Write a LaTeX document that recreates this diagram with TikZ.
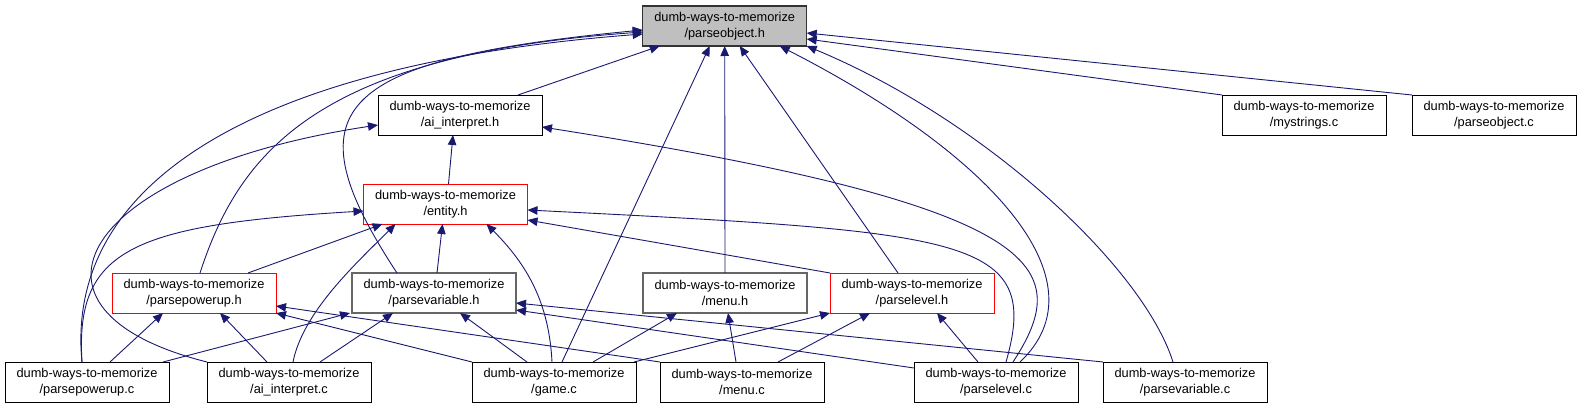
\documentclass[tikz,border=0pt]{standalone}
\usepackage{fontspec}
\setmainfont{Liberation Sans}
\usetikzlibrary{positioning, arrows.meta}

\definecolor{edgeblue}{HTML}{191970}
\definecolor{rootgray}{HTML}{BFBFBF}

\begin{document}
\begin{tikzpicture}[
  x=1pt, y=-1pt,
  box/.style={draw=black, fill=white, line width=0.9pt, minimum width=164pt,
              minimum height=40pt, inner sep=0pt, outer sep=0pt, align=center,
              font=\fontsize{12.8}{15.5}\selectfont},
  rootbox/.style={box, fill=rootgray, draw=black!80, line width=1.1pt},
  redbox/.style={box, draw=red},
  greybox/.style={box, draw=black!60, line width=1.2pt},
  dep/.style={-{Triangle[length=10pt,width=8.5pt]}, draw=edgeblue, fill=none,
              line width=0.9pt},
]
\useasboundingbox (0,0) rectangle (1580,409);

% row 0
\node[rootbox] (pobjh) at (724.7,26) {dumb-ways-to-memorize\\/parseobject.h};

% row 1
\node[box] (aih) at (460,115) {dumb-ways-to-memorize\\/ai\_interpret.h};
\node[box] (mysc) at (1304,115) {dumb-ways-to-memorize\\/mystrings.c};
\node[box, right=26pt of mysc] (pobjc) {dumb-ways-to-memorize\\/parseobject.c};

% row 2
\node[redbox] (enth) at (445.5,204) {dumb-ways-to-memorize\\/entity.h};

% row 3
\node[redbox] (ppuh) at (194,293) {dumb-ways-to-memorize\\/parsepowerup.h};
\node[greybox, right=76pt of ppuh] (pvarh) {dumb-ways-to-memorize\\/parsevariable.h};
\node[greybox, right=127pt of pvarh] (menuh) {dumb-ways-to-memorize\\/menu.h};
\node[redbox, right=23pt of menuh] (plevh) {dumb-ways-to-memorize\\/parselevel.h};

% row 4
\node[box] (ppuc) at (87,382) {dumb-ways-to-memorize\\/parsepowerup.c};
\node[box, right=38pt of ppuc] (aic) {dumb-ways-to-memorize\\/ai\_interpret.c};
\node[box, right=101pt of aic] (gamec) {dumb-ways-to-memorize\\/game.c};
\node[box, right=24pt of gamec] (menuc) {dumb-ways-to-memorize\\/menu.c};
\node[box, right=90pt of menuc] (plevc) {dumb-ways-to-memorize\\/parselevel.c};
\node[box, right=25pt of plevc] (pvarc) {dumb-ways-to-memorize\\/parsevariable.c};

% into parseobject.h
\draw[dep] ([xshift=58pt]aih.north) -- ([xshift=-65pt]pobjh.south);
\draw[dep] ([xshift=8pt]gamec.north) -- ([xshift=-15pt]pobjh.south);
\draw[dep] (menuh.north) -- (pobjh.south);
\draw[dep] ([xshift=-14pt]plevh.north) -- ([xshift=15pt]pobjh.south);
\draw[dep] ([xshift=24pt]plevc.north) .. controls +(85,-80) and +(215,110) .. ([xshift=55pt]pobjh.south);
\draw[dep] ([xshift=-12pt]pvarc.north) .. controls +(-30,-95) and +(178,74) .. (pobjh.south east);
\draw[dep] (mysc.north west) -- ([yshift=-13pt]pobjh.east);
\draw[dep] (pobjc.north west) -- ([yshift=-7pt]pobjh.east);
\draw[dep] ([xshift=-5pt]ppuc.north) .. controls +(-17,-172) and +(-403,31) .. ([yshift=-8pt]pobjh.west);
\draw[dep] ([xshift=6pt]ppuh.north) .. controls +(40,-123) and +(-323,23) .. ([yshift=-6pt]pobjh.west);
\draw[dep] ([xshift=-37pt]pvarh.north) .. controls +(-107,-163) and +(-313,30) .. ([yshift=-4pt]pobjh.west);

% into ai_interpret.h
\draw[dep] ([xshift=3pt]enth.north) -- ([xshift=-7pt]aih.south);
\draw[dep] (aic.north west) .. controls +(-207,-52) and +(-298,45) .. ([yshift=-10pt]aih.west);
\draw[dep] ([xshift=17pt]plevc.north) .. controls +(62,-95) and +(508,80) .. ([yshift=-12pt]aih.east);

% into entity.h
\draw[dep] ([xshift=-5pt]ppuc.north) .. controls +(-7,-112) and +(-233,14) .. ([yshift=-7pt]enth.west);
\draw[dep] ([xshift=54pt]ppuh.north) -- ([xshift=-63pt]enth.south);
\draw[dep] ([xshift=4pt]aic.north) .. controls +(10,-50) and +(-40,40) .. ([xshift=-50pt]enth.south);
\draw[dep] ([xshift=3pt]pvarh.north) -- ([xshift=-3pt]enth.south);
\draw[dep] ([xshift=-2pt]gamec.north) .. controls +(-3,-60) and +(40,40) .. ([xshift=41pt]enth.south);
\draw[dep] ([xshift=10pt]plevc.north) .. controls +(36,-125) and +(440,22) .. ([yshift=-6pt]enth.east);
\draw[dep] (plevh.north west) -- ([yshift=-16pt]enth.east);

% into parsepowerup.h
\draw[dep] ([xshift=23pt]ppuc.north) -- ([xshift=-31pt]ppuh.south);
\draw[dep] ([xshift=-22pt]aic.north) -- ([xshift=26pt]ppuh.south);
\draw[dep] (gamec.north west) -- (ppuh.south east);
\draw[dep] (menuc.north west) -- ([yshift=-13pt]ppuh.east);

% into parsevariable.h
\draw[dep] ([xshift=76pt]ppuc.north) -- ([xshift=-84pt]pvarh.south);
\draw[dep] ([xshift=31pt]aic.north) -- ([xshift=-41pt]pvarh.south);
\draw[dep] ([xshift=-27pt]gamec.north) -- ([xshift=26pt]pvarh.south);
\draw[dep] ([yshift=14pt]plevc.west) -- ([yshift=-17pt]pvarh.east);
\draw[dep] (pvarc.north west) -- ([yshift=-10pt]pvarh.east);

% into menu.h
\draw[dep] ([xshift=39pt]gamec.north) -- ([xshift=-48pt]menuh.south);
\draw[dep] ([xshift=-6pt]menuc.north) -- ([xshift=3pt]menuh.south);

% into parselevel.h
\draw[dep] ([xshift=80pt]gamec.north) -- (plevh.south west);
\draw[dep] ([xshift=36pt]menuc.north) -- ([xshift=-42pt]plevh.south);
\draw[dep] ([xshift=-18pt]plevc.north) -- ([xshift=25pt]plevh.south);

\end{tikzpicture}
\end{document}
